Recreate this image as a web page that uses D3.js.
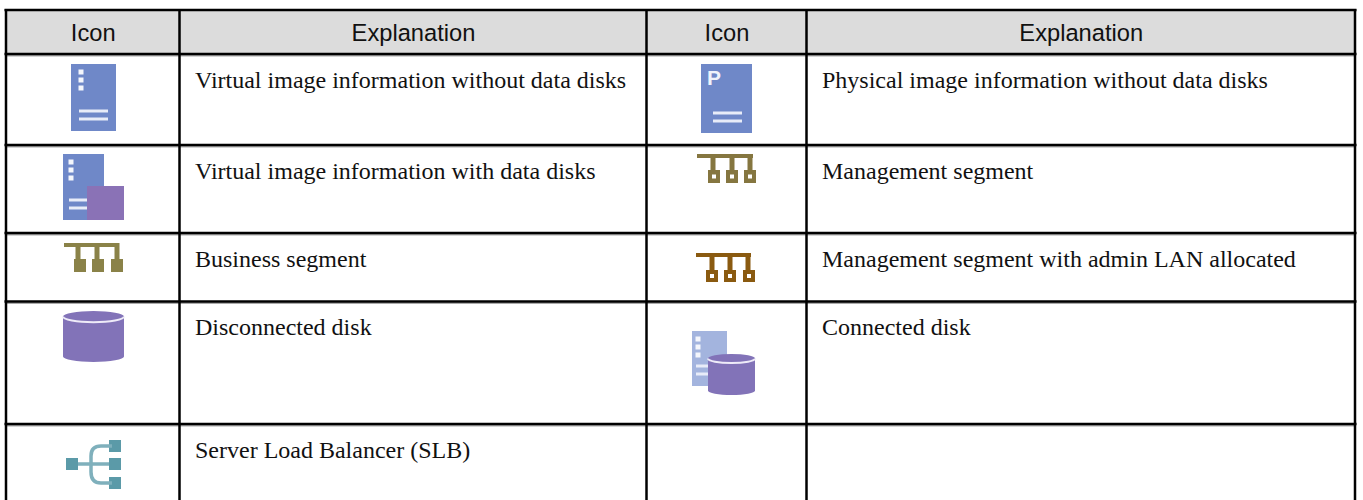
<!DOCTYPE html>
<html><head><meta charset="utf-8">
<script src="https://cdn.jsdelivr.net/npm/d3@7/dist/d3.min.js"></script>
<style>html,body{margin:0;padding:0;background:#fff;overflow:hidden}svg{display:block}</style>
</head><body><svg id="c" width="1363" height="500"></svg>
<script>
const headers = ["Icon","Explanation","Icon","Explanation"];
const leftIcons = ["virtual","virtualDisk","business","disk","slb"];
const leftText = ["Virtual image information without data disks","Virtual image information with data disks","Business segment","Disconnected disk","Server Load Balancer (SLB)"];
const rightIcons = ["physical","management","managementAdmin","connected",""];
const rightText = ["Physical image information without data disks","Management segment","Management segment with admin LAN allocated","Connected disk",""];
const rowEdges = [10,54,145,233,301.5,424];
const colEdges = [6,179.5,646.5,806.5,1355];

const svg = d3.select("#c");
const BLUE="#6f88c8", PURPLE="#8273b8", LIGHT="#a3b4de";

svg.append("rect").attr("x",colEdges[0]).attr("y",rowEdges[0]).attr("width",colEdges[4]-colEdges[0]).attr("height",rowEdges[1]-rowEdges[0]).attr("fill","#dcdcdc");

svg.selectAll("line.h0").data(rowEdges.slice(1)).join("line").attr("class","h0")
 .attr("x1",colEdges[0]).attr("x2",colEdges[4]).attr("y1",d=>d+1.5).attr("y2",d=>d+1.5).attr("stroke","#aaa").attr("stroke-width",2);
svg.selectAll("line.h").data(rowEdges).join("line").attr("class","h")
 .attr("x1",colEdges[0]-1.5).attr("x2",colEdges[4]+1.5).attr("y1",d=>d).attr("y2",d=>d).attr("stroke","#000").attr("stroke-width",2.5);
svg.selectAll("line.v").data(colEdges).join("line").attr("class","v")
 .attr("x1",d=>d).attr("x2",d=>d).attr("y1",rowEdges[0]-1).attr("y2",500).attr("stroke","#000").attr("stroke-width",2.5);

svg.selectAll("text.hd").data(headers).join("text").attr("class","hd")
 .attr("x",(d,i)=>(colEdges[i]+colEdges[i+1])/2+0.5).attr("y",41).attr("text-anchor","middle")
 .attr("font-family","'Liberation Sans',Arial,sans-serif").attr("font-size",23.7).attr("fill","#111").text(d=>d);

function bodyText(arr,col){
 svg.selectAll("text.b"+col).data(arr).join("text").attr("class","b"+col)
  .attr("x",colEdges[col]+15.5).attr("y",(d,i)=>rowEdges[i+1]+33.5)
  .attr("font-family","'Liberation Serif','Times New Roman',serif").attr("font-size",24).attr("fill","#111").text(d=>d);
}
bodyText(leftText,1); bodyText(rightText,3);

function rect(g,a,b,w,h,f){return g.append("rect").attr("x",a).attr("y",b).attr("width",w).attr("height",h).attr("fill",f);}
function server(g,a,b,w,h,c,lx,lw,dots){
 rect(g,a,b,w,h,c);
 if(dots) [8,16,24].forEach(t=>rect(g,a+dots-2.5,b+t-2.5,5,5,"#f4f6fc"));
 [h-20,h-12].forEach(t=>rect(g,a+lx,b+t-1.5,lw,3,"#e8ecf8"));
}
function cylinder(g,a,b,w,h,c){
 const ry=h*0.11, rx=w/2;
 g.append("path").attr("d",`M${a},${b+ry} A${rx},${ry} 0 0 1 ${a+w},${b+ry} V${b+h-ry} A${rx},${ry} 0 0 1 ${a},${b+h-ry} Z`).attr("fill",c);
 g.append("path").attr("d",`M${a},${b+ry} A${rx},${ry} 0 0 0 ${a+w},${b+ry}`).attr("fill","none").attr("stroke","#eeebf8").attr("stroke-width",2);
}
function segment(g,a,b,c,hollow,cfg){
 const {w,stems,boxX,boxW,boxTop,boxH,bar}=cfg;
 rect(g,a,b,w,bar,c);
 stems.forEach(s=>rect(g,a+s-2.5,b,5,boxTop,c));
 boxX.forEach(s=>{rect(g,a+s,b+boxTop,boxW,boxH,c);
  if(hollow) rect(g,a+s+(boxW-4)/2,b+boxTop+(boxH-4)/2,4,4,"#fff");});
}
const drawers={
 virtual(g){server(g,71,64,45,67,BLUE,8,29,10);},
 virtualDisk(g){server(g,63,154,41,66,BLUE,6,24,8);rect(g,87,186,37,34,"#8a72b6");},
 business(g){segment(g,64,243,"#8a8248",false,{w:55,bar:4,stems:[14,33,53],boxX:[10,28,47],boxW:12,boxTop:16,boxH:13});},
 disk(g){cylinder(g,63,311,61,51,PURPLE);},
 slb(g){
  const c="#5b9aa8";
  [[66,458],[109,440],[109,458],[109,477]].forEach(p=>rect(g,p[0],p[1],12,12,c));
  g.append("path").attr("d","M78,464 H109 M112,446 H101 Q91,446 91,456 V472 Q91,483 101,483 H112").attr("fill","none").attr("stroke","#7fb0bc").attr("stroke-width",3.5);
 },
 physical(g){
  server(g,701,64,51,69,BLUE,12,29,0);
  g.append("text").attr("x",707).attr("y",85).attr("font-family","'Liberation Sans',sans-serif").attr("font-weight","bold").attr("font-size",21).attr("fill","#f0f3fb").text("P");
 },
 management(g){segment(g,697,154,"#857640",true,{w:56,bar:4,stems:[16,35,53],boxX:[11,29,47],boxW:12,boxTop:16,boxH:13});},
 managementAdmin(g){segment(g,696,253,"#8a5a10",true,{w:55,bar:4,stems:[16,34,52],boxX:[10,28,47],boxW:12,boxTop:17,boxH:12});},
 connected(g){server(g,692,331,35,55,LIGHT,4,14,6);cylinder(g,708,354,47,41,PURPLE);}
};
function icons(arr){
 svg.selectAll(null).data(arr.filter(Boolean)).join("g").each(function(d){drawers[d](d3.select(this));});
}
icons(leftIcons); icons(rightIcons);
</script></body></html>
